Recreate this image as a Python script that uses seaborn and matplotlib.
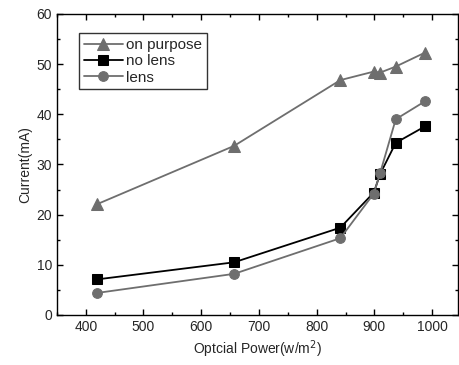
import pandas as pd
import matplotlib.pyplot as plt
import seaborn as sns
from matplotlib.ticker import MultipleLocator

power = [420, 657, 841, 899, 910, 937, 988]
on_purpose = [22.1, 33.7, 46.8, 48.5, 48.3, 49.5, 52.3]
no_lens = [7.1, 10.5, 17.4, 24.4, 28.1, 34.3, 37.6]
lens = [4.4, 8.2, 15.3, 24.2, 28.3, 39.0, 42.6]

series = ["on purpose", "no lens", "lens"]
colors = ["#6e6e6e", "#000000", "#6e6e6e"]
markers = ["^", "s", "o"]
sizes = [9, 6.5, 7]

df = pd.concat([
    pd.DataFrame({"power": power, "current": vals, "series": name})
    for name, vals in zip(series, [on_purpose, no_lens, lens])
])

sns.set_theme(style="ticks")
plt.rcParams["font.family"] = ["Liberation Sans", "DejaVu Sans"]

fig = plt.figure(figsize=(4.59, 3.65), dpi=100)
ax = fig.add_axes([0.124, 0.137, 0.874, 0.825])

for name, c, m, s in zip(series, colors, markers, sizes):
    sns.lineplot(data=df[df["series"] == name], x="power", y="current",
                 ax=ax, color=c, marker=m, markersize=s, markeredgecolor=c,
                 linewidth=1.3, label=name)

ax.set_xlim(350, 1045)
ax.set_ylim(0, 60)
ax.xaxis.set_major_locator(MultipleLocator(100))
ax.xaxis.set_minor_locator(MultipleLocator(50))
ax.yaxis.set_major_locator(MultipleLocator(10))
ax.yaxis.set_minor_locator(MultipleLocator(5))
ax.tick_params(which="both", direction="in", top=True, right=True,
               labelsize=10, color="black", width=1)
ax.tick_params(which="major", length=4)
ax.tick_params(which="minor", length=2.5)
for sp in ax.spines.values():
    sp.set_linewidth(1)
    sp.set_color("black")

ax.set_xlabel("Optcial Power(w/m$^2$)", fontsize=10, labelpad=3)
ax.set_ylabel("Current(mA)", fontsize=10, labelpad=3)

leg = ax.legend(loc="upper left", bbox_to_anchor=(0.055, 0.935), fontsize=11,
                frameon=True, fancybox=False, edgecolor="black",
                handlelength=2.6, handletextpad=0.2, borderpad=0.3,
                labelspacing=0.15, borderaxespad=0)
leg.get_frame().set_linewidth(1)

fig.savefig("out.png", dpi=100)
